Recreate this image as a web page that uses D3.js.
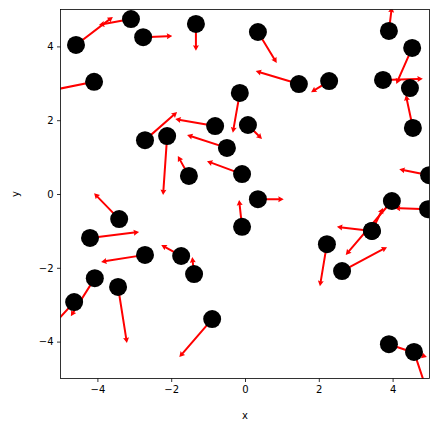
<!DOCTYPE html>
<html>
<head>
<meta charset="utf-8">
<script src="https://cdn.jsdelivr.net/npm/d3@7"></script>
<style>
  body { margin: 0; background: #fff; }
  text { font-family: "DejaVu Sans", sans-serif; }
</style>
</head>
<body>
<script>
// point positions
const xs = [-4.58, -3.09, -2.76, -1.33, -4.09, -2.71, -2.11, -0.81, -0.49, -1.52,
            -0.08, -0.14, 0.35, 1.46, 2.28, 3.90, 4.53, 3.74, 4.47, 4.55,
            0.08, 0.35, 4.99, -0.08, 3.98, 4.96, 3.44, 3.44, 2.22, 2.63,
            3.90, 4.58, -3.41, -4.20, -2.71, -1.73, -1.38, -4.07, -4.63, -3.44, -0.89];
const ys = [4.04, 4.74, 4.25, 4.61, 3.04, 1.46, 1.57, 1.84, 1.25, 0.49,
            0.54, 2.74, 4.39, 2.98, 3.06, 4.42, 3.96, 3.09, 2.87, 1.79,
            1.87, -0.14, 0.51, -0.89, -0.19, -0.41, -1.00, -1.00, -1.36, -2.09,
            -4.07, -4.28, -0.68, -1.19, -1.65, -1.68, -2.17, -2.28, -2.93, -2.52, -3.39];
// arrow components
const us = [1.00, -0.87, 0.79, 0.00, -1.10, 0.87, -0.11, -1.08, -1.08, -0.30,
            -0.95, -0.19, 0.51, -1.17, -0.49, 0.08, -0.43, 1.08, -0.15, -0.19,
            0.38, 0.70, -0.81, -0.08, -1.25, -0.90, 0.30, -0.95, -0.19, 1.22,
            1.03, 0.30, -0.68, 1.33, -1.19, -0.54, -0.05, -0.65, -0.55, 0.24, -0.89];
const vs = [0.76, -0.16, 0.03, -0.73, -0.22, 0.76, -1.60, 0.19, 0.35, 0.54,
            0.35, -1.08, -0.84, 0.35, -0.30, 0.65, -0.98, 0.03, 0.10, 0.89,
            -0.38, 0.00, 0.16, 0.73, -1.46, 0.03, 0.62, 0.11, -1.14, 0.65,
            -0.35, -0.90, 0.70, 0.16, -0.19, 0.30, 0.46, -1.03, -0.60, -1.52, -1.03];
const ticks = [-4, -2, 0, 2, 4];

const width = 439, height = 432;
const x = d3.scaleLinear().domain([-5, 5]).range([60.5, 429.5]);
const y = d3.scaleLinear().domain([-5, 5]).range([378.5, 9.5]);

const svg = d3.select("body").append("svg")
  .attr("width", width)
  .attr("height", height);

svg.append("clipPath").attr("id", "plotclip")
  .append("rect")
  .attr("x", x(-5)).attr("y", y(5))
  .attr("width", x(5) - x(-5)).attr("height", y(-5) - y(5));

const plot = svg.append("g").attr("clip-path", "url(#plotclip)");

// matplotlib-like quiver arrow polygon in pixel space
function arrowPath(x0, y0, x1, y1) {
  const dx = x1 - x0, dy = y1 - y0;
  const L = Math.hypot(dx, dy);
  if (L < 0.01) return "";
  const ux = dx / L, uy = dy / L, nx = -uy, ny = ux;
  const hw = 1, hh = 3, hl = 5.5, hal = 5;
  const pts = [[0, -hw], [L - hal, -hw], [L - hl, -hh], [L, 0], [L - hl, hh], [L - hal, hw], [0, hw]];
  return "M" + pts.map(p => [x0 + ux * p[0] + nx * p[1], y0 + uy * p[0] + ny * p[1]].join(",")).join("L") + "Z";
}

const idx = d3.range(xs.length);

plot.selectAll("path.arrow")
  .data(idx)
  .enter().append("path")
  .attr("class", "arrow")
  .attr("fill", "red")
  .attr("d", i => arrowPath(x(xs[i]), y(ys[i]), x(xs[i] + us[i]), y(ys[i] + vs[i])));

plot.selectAll("circle.pt")
  .data(idx)
  .enter().append("circle")
  .attr("class", "pt")
  .attr("cx", i => x(xs[i]))
  .attr("cy", i => y(ys[i]))
  .attr("r", 9)
  .attr("fill", "black");

// axes
const fmt = d => (d < 0 ? "\u2212" + Math.abs(d) : "" + d);

const xAxis = svg.append("g")
  .attr("transform", `translate(0,${y(-5)})`)
  .call(d3.axisBottom(x).tickValues(ticks).tickFormat(fmt).tickSize(3.5).tickPadding(3.5));

const yAxis = svg.append("g")
  .attr("transform", `translate(${x(-5)},0)`)
  .call(d3.axisLeft(y).tickValues(ticks).tickFormat(fmt).tickSize(3.5).tickPadding(3.5));

[xAxis, yAxis].forEach(a => {
  a.select(".domain").remove();
  a.selectAll("text").attr("font-size", 10).attr("fill", "#000").style("font-family", "DejaVu Sans");
  a.selectAll("line").attr("stroke", "#000").attr("stroke-width", 0.8);
});

svg.append("rect")
  .attr("x", x(-5)).attr("y", y(5))
  .attr("width", x(5) - x(-5)).attr("height", y(-5) - y(5))
  .attr("fill", "none").attr("stroke", "#000").attr("stroke-width", 0.8);

svg.append("text")
  .attr("x", (x(-5) + x(5)) / 2).attr("y", 419)
  .attr("text-anchor", "middle").attr("font-size", 10)
  .text("x");

svg.append("text")
  .attr("transform", `translate(19,${(y(-5) + y(5)) / 2}) rotate(-90)`)
  .attr("text-anchor", "middle").attr("font-size", 10)
  .text("y");
</script>
</body>
</html>
